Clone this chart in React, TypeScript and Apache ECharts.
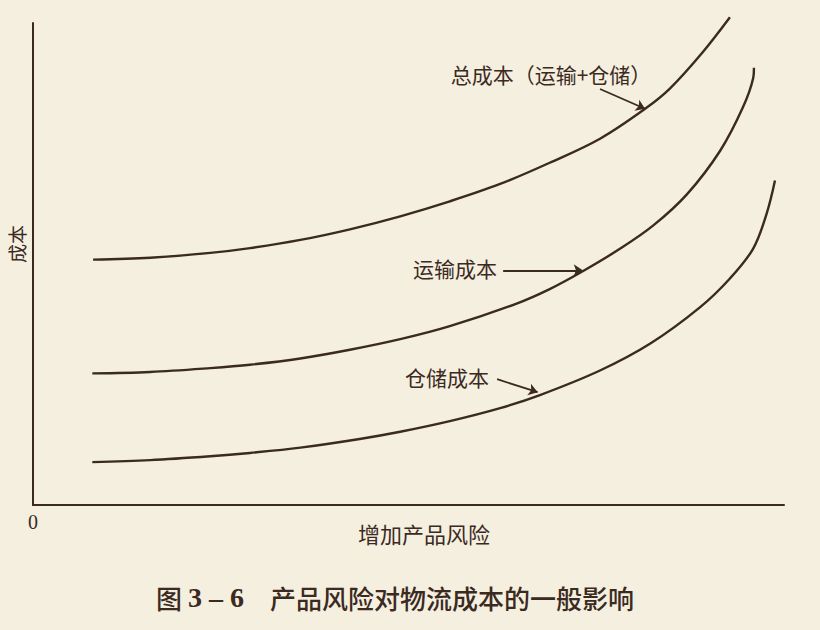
import React, { useEffect, useRef } from "react";
import * as echarts from "echarts";

// x: product risk (0-100), y: cost (0-100)
const totalCost: [number, number][] = [
  [8.0, 50.9], [15.6, 51.3], [23.6, 52.3], [28.9, 53.3], [35.6, 55.0], [42.2, 57.2],
  [48.9, 59.9], [55.5, 63.0], [62.2, 66.6], [68.8, 71.0], [75.5, 76.0], [81.5, 82.2],
  [84.8, 86.4], [89.2, 94.0], [92.8, 101.2],
];
const transportCost: [number, number][] = [
  [7.9, 27.3], [15.6, 27.6], [23.6, 28.4], [28.9, 29.1], [35.6, 30.4], [42.2, 32.2],
  [48.9, 34.4], [55.5, 37.1], [64.4, 41.8], [68.8, 44.8], [73.2, 48.5], [78.2, 53.2],
  [82.6, 58.0], [87.1, 64.5], [91.5, 73.5], [94.5, 82.4], [95.9, 88.6], [96.0, 90.7],
];
const storageCost: [number, number][] = [
  [7.9, 8.9], [15.6, 9.3], [23.6, 10.1], [28.9, 10.8], [35.6, 11.9], [43.5, 13.7],
  [48.9, 15.2], [55.5, 17.4], [62.2, 20.1], [67.5, 22.8], [75.5, 27.9], [82.2, 33.5],
  [88.8, 41.0], [92.8, 47.0], [95.9, 53.2], [97.7, 60.5], [98.8, 67.3],
];
const arrowLines: { from: [number, number]; to: [number, number] }[] = [
  { from: [75.5, 86.3], to: [81.5, 82.2] },
  { from: [62.6, 48.7], to: [73.2, 48.7] },
  { from: [61.8, 26.1], to: [67.2, 23.4] },
];
const annotations = ["总成本（运输+仓储）", "运输成本", "仓储成本"];
const xAxisName = "增加产品风险";
const yAxisName = "成本";
const titleMain = "产品风险对物流成本的一般影响";

const INK = "#3b2a1f";
const BG = "#f5efdf";
const CJK = "'Noto Sans CJK SC', 'Noto Sans', sans-serif";

export default function App() {
  const ref = useRef<HTMLDivElement>(null);
  useEffect(() => {
    if (!ref.current) return;
    const chart = echarts.init(ref.current, null, { renderer: "svg" });
    const lineSeries = (name: string, data: [number, number][]) => ({
      name,
      type: "line",
      data,
      smooth: 0.35,
      symbol: "none",
      clip: false,
      lineStyle: { color: INK, width: 2.4 },
      z: 3,
    });
    chart.setOption({
      animation: false,
      backgroundColor: BG,
      grid: { left: 33, right: 36, top: 23, bottom: 125 },
      xAxis: {
        type: "value",
        min: 0,
        max: 100,
        interval: 100,
        axisLine: { show: true, lineStyle: { color: INK, width: 2 } },
        axisTick: { show: false },
        splitLine: { show: false },
        axisLabel: {
          formatter: (v: number) => (v === 0 ? "0" : ""),
          color: INK,
          fontFamily: "'Liberation Serif', serif",
          fontSize: 20,
          margin: 7,
        },
      },
      yAxis: {
        type: "value",
        min: 0,
        max: 100,
        axisLine: { show: true, lineStyle: { color: INK, width: 2 } },
        axisTick: { show: false },
        splitLine: { show: false },
        axisLabel: { show: false },
      },
      series: [
        lineSeries("总成本", totalCost),
        lineSeries("运输成本", transportCost),
        lineSeries("仓储成本", storageCost),
        {
          type: "lines",
          coordinateSystem: "cartesian2d",
          symbol: ["none", "arrow"],
          symbolSize: 9,
          lineStyle: { color: INK, width: 1.8, opacity: 1 },
          data: arrowLines.map((a) => ({ coords: [a.from, a.to] })),
          z: 4,
        },
      ],
      graphic: [
        {
          type: "text",
          x: 551,
          y: 74,
          style: { text: annotations[0], fill: INK, font: `21px ${CJK}`, align: "center", verticalAlign: "middle" },
        },
        {
          type: "text",
          x: 455,
          y: 268,
          style: { text: annotations[1], fill: INK, font: `21px ${CJK}`, align: "center", verticalAlign: "middle" },
        },
        {
          type: "text",
          x: 447,
          y: 377,
          style: { text: annotations[2], fill: INK, font: `21px ${CJK}`, align: "center", verticalAlign: "middle" },
        },
        {
          type: "text",
          x: 424,
          y: 533,
          style: { text: xAxisName, fill: INK, font: `22px ${CJK}`, align: "center", verticalAlign: "middle" },
        },
        {
          type: "text",
          x: 16,
          y: 244,
          rotation: Math.PI / 2,
          style: { text: yAxisName, fill: INK, font: `19px ${CJK}`, align: "center", verticalAlign: "middle" },
        },
        {
          type: "text",
          x: 395,
          y: 597,
          style: {
            text: `{a|图 }{b|3 – 6}{a|　${titleMain}}`,
            align: "center",
            verticalAlign: "middle",
            rich: {
              a: { fill: INK, fontFamily: CJK, fontSize: 26, fontWeight: 500 },
              b: { fill: INK, fontFamily: "'Liberation Serif', serif", fontSize: 28, fontWeight: "bold" },
            },
          },
        },
      ],
    });
    return () => chart.dispose();
  }, []);
  return (
    <div
      ref={ref}
      style={{ position: "fixed", left: 0, top: 0, width: 820, height: 630, background: BG }}
    />
  );
}
